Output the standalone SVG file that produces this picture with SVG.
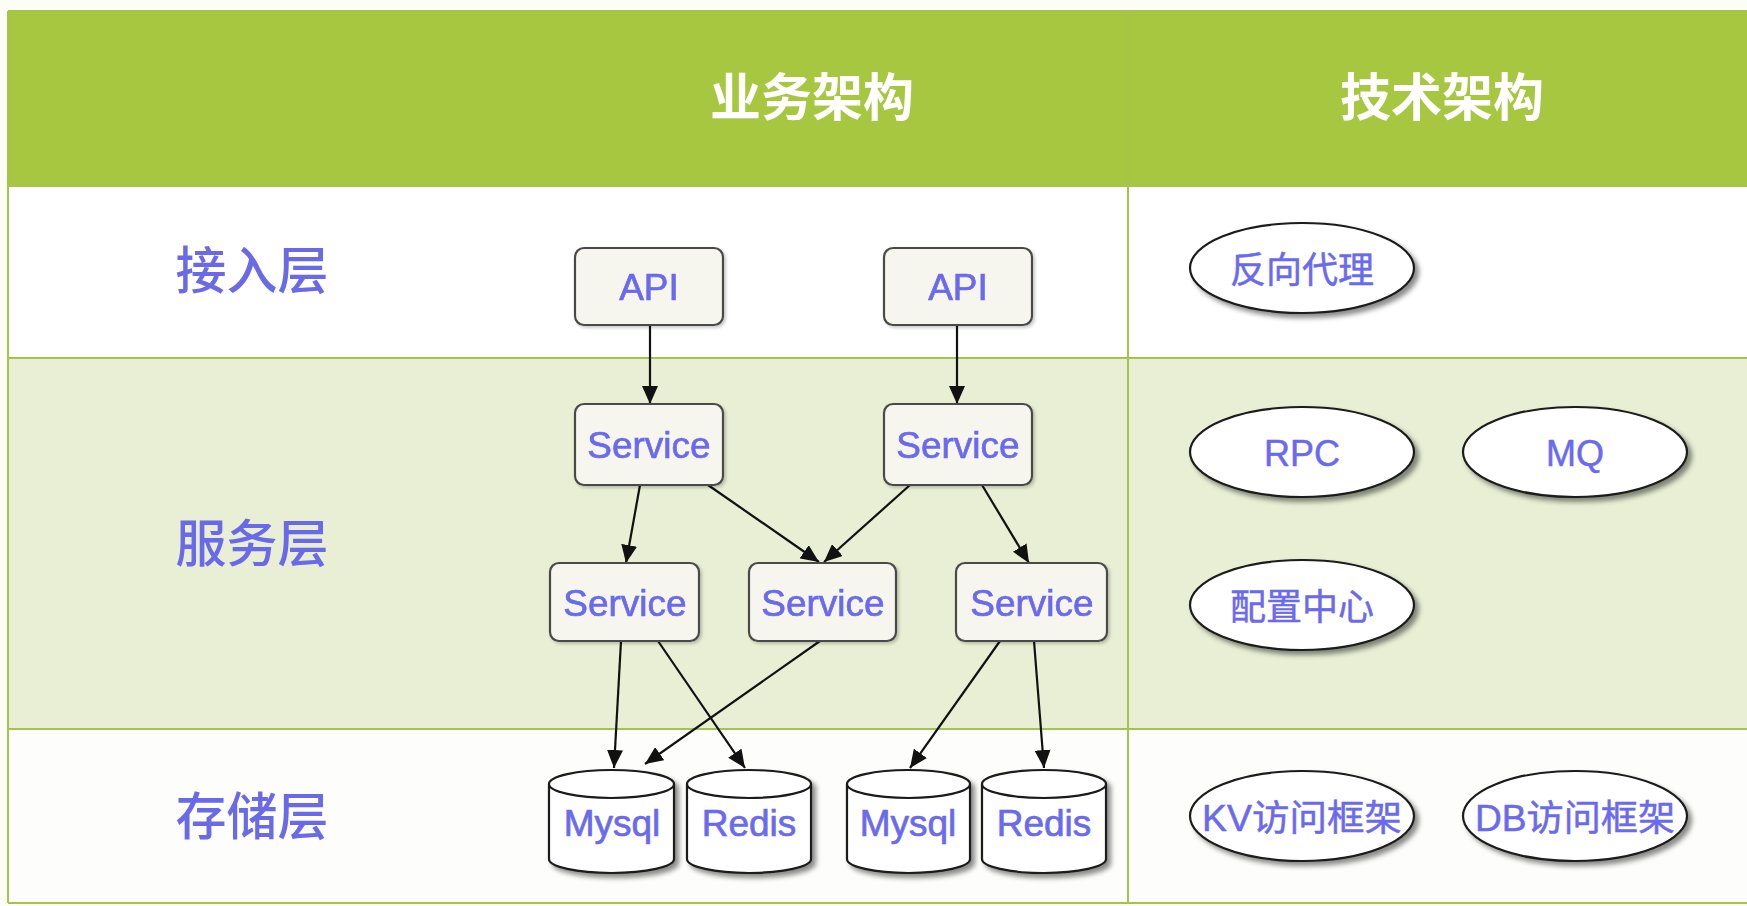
<svg xmlns="http://www.w3.org/2000/svg" width="1747" height="906" viewBox="0 0 1747 906">
<style>
.lbl{font-family:"Noto Sans CJK SC","Liberation Sans",sans-serif;font-size:51px;font-weight:500;fill:#6a6ae8;text-anchor:middle;dominant-baseline:central}
.hdr{font-family:"Noto Sans CJK SC","Liberation Sans",sans-serif;font-size:51px;font-weight:bold;fill:#ffffff;text-anchor:middle;dominant-baseline:central}
.t{font-family:"Liberation Sans","Noto Sans CJK SC",sans-serif;font-size:37px;fill:#6a6aee;stroke:#6a6aee;stroke-width:0.7;text-anchor:middle;dominant-baseline:central}
.tc{font-family:"Liberation Sans","Noto Sans CJK SC",sans-serif;font-size:36px;fill:#6a6aee;stroke:#6a6aee;stroke-width:0.5;text-anchor:middle;dominant-baseline:central}
.box{fill:#f7f6ee;stroke:#4a4a4a;stroke-width:2.2}
.db{fill:#ffffff;stroke:#1a1a1a;stroke-width:2.2}
.ell{fill:#ffffff;stroke:#1a1a1a;stroke-width:2.2}
.grid{stroke:#a6c44c;stroke-width:2;fill:none}
.edge{stroke:#111;stroke-width:2.2;fill:none;marker-end:url(#arr)}
</style>
<defs>
<marker id="arr" markerUnits="userSpaceOnUse" markerWidth="18" markerHeight="16" refX="18" refY="8" orient="auto">
<path d="M0,0 L18,8 L0,16 Z" fill="#111"/>
</marker>
<filter id="sh" x="-20%" y="-20%" width="150%" height="160%">
<feDropShadow dx="4" dy="4" stdDeviation="2.5" flood-color="#000" flood-opacity="0.45"/>
</filter>
<filter id="shs" x="-20%" y="-20%" width="150%" height="160%">
<feDropShadow dx="2" dy="2" stdDeviation="1.5" flood-color="#000" flood-opacity="0.2"/>
</filter>
</defs>

<g id="table">
<rect x="0" y="0" width="1747" height="906" fill="#fcfdf4"/>
<rect x="8" y="11" width="1739" height="175" fill="#a7c740"/>
<rect x="8" y="186" width="1739" height="172" fill="#ffffff"/>
<rect x="8" y="358" width="1739" height="371" fill="#e8efd4"/>
<rect x="8" y="729" width="1739" height="174" fill="#fdfdfb"/>
<line class="grid" x1="8" y1="11" x2="1747" y2="11" stroke="#9fbc46"/>
<line class="grid" x1="8" y1="186" x2="1747" y2="186"/>
<line class="grid" x1="8" y1="358" x2="1747" y2="358"/>
<line class="grid" x1="8" y1="729" x2="1747" y2="729"/>
<line class="grid" x1="8" y1="903" x2="1747" y2="903"/>
<line class="grid" x1="8" y1="11" x2="8" y2="903"/>
<line class="grid" x1="1128" y1="11" x2="1128" y2="903"/>
<text class="hdr" x="812" y="94">业务架构</text>
<text class="hdr" x="1442" y="94">技术架构</text>
<text class="lbl" x="252" y="267">接入层</text>
<text class="lbl" x="252" y="540">服务层</text>
<text class="lbl" x="252" y="813">存储层</text>
</g>

<g id="connectors">
<line class="edge" x1="650" y1="325" x2="650" y2="404"/>
<line class="edge" x1="957" y1="325" x2="957" y2="404"/>
<line class="edge" x1="640" y1="485" x2="626" y2="563"/>
<line class="edge" x1="708" y1="485" x2="819" y2="562"/>
<line class="edge" x1="910" y1="485" x2="824" y2="562"/>
<line class="edge" x1="982" y1="485" x2="1029" y2="563"/>
<line class="edge" x1="621" y1="641" x2="614" y2="768"/>
<line class="edge" x1="658" y1="641" x2="745" y2="768"/>
<line class="edge" x1="820" y1="641" x2="645" y2="764"/>
<line class="edge" x1="1000" y1="641" x2="910" y2="768"/>
<line class="edge" x1="1034" y1="641" x2="1044" y2="768"/>
</g>

<g id="api1" filter="url(#shs)"><rect class="box" x="575" y="248" width="148" height="77" rx="9"/><text class="t" x="649" y="287">API</text></g>
<g id="api2" filter="url(#shs)"><rect class="box" x="884" y="248" width="148" height="77" rx="9"/><text class="t" x="958" y="287">API</text></g>
<g id="svc1" filter="url(#shs)"><rect class="box" x="575" y="404" width="148" height="81" rx="9"/><text class="t" x="649" y="445">Service</text></g>
<g id="svc2" filter="url(#shs)"><rect class="box" x="884" y="404" width="148" height="81" rx="9"/><text class="t" x="958" y="445">Service</text></g>
<g id="svc3" filter="url(#shs)"><rect class="box" x="550" y="563" width="149" height="78" rx="9"/><text class="t" x="625" y="603">Service</text></g>
<g id="svc4" filter="url(#shs)"><rect class="box" x="749" y="563" width="147" height="78" rx="9"/><text class="t" x="823" y="603">Service</text></g>
<g id="svc5" filter="url(#shs)"><rect class="box" x="956" y="563" width="151" height="78" rx="9"/><text class="t" x="1032" y="603">Service</text></g>

<g id="mysql1"><path class="db" filter="url(#sh)" d="M549,784 A62.5,14 0 0 1 674,784 V859 A62.5,14 0 0 1 549,859 Z"/><path class="db" fill="none" d="M549,784 A62.5,14 0 0 0 674,784"/><text class="t" x="612" y="823">Mysql</text></g>
<g id="redis1"><path class="db" filter="url(#sh)" d="M687,784 A62,14 0 0 1 811,784 V859 A62,14 0 0 1 687,859 Z"/><path class="db" fill="none" d="M687,784 A62,14 0 0 0 811,784"/><text class="t" x="749" y="823">Redis</text></g>
<g id="mysql2"><path class="db" filter="url(#sh)" d="M847,784 A61.5,14 0 0 1 970,784 V859 A61.5,14 0 0 1 847,859 Z"/><path class="db" fill="none" d="M847,784 A61.5,14 0 0 0 970,784"/><text class="t" x="908" y="823">Mysql</text></g>
<g id="redis2"><path class="db" filter="url(#sh)" d="M982,784 A62,14 0 0 1 1106,784 V859 A62,14 0 0 1 982,859 Z"/><path class="db" fill="none" d="M982,784 A62,14 0 0 0 1106,784"/><text class="t" x="1044" y="823">Redis</text></g>

<g id="proxy"><ellipse class="ell" filter="url(#sh)" cx="1302" cy="268" rx="112" ry="45"/><text class="tc" x="1302" y="270" font-family="Noto Sans CJK SC">反向代理</text></g>
<g id="rpc"><ellipse class="ell" filter="url(#sh)" cx="1302" cy="452" rx="112" ry="45"/><text class="tc" x="1302" y="453">RPC</text></g>
<g id="mq"><ellipse class="ell" filter="url(#sh)" cx="1575" cy="452" rx="112" ry="45"/><text class="tc" x="1575" y="453">MQ</text></g>
<g id="config"><ellipse class="ell" filter="url(#sh)" cx="1302" cy="605" rx="112" ry="45"/><text class="tc" x="1302" y="607">配置中心</text></g>
<g id="kv"><ellipse class="ell" filter="url(#sh)" cx="1302" cy="816" rx="112" ry="45"/><text class="tc" x="1302" y="818" textLength="200" lengthAdjust="spacingAndGlyphs">KV访问框架</text></g>
<g id="dbf"><ellipse class="ell" filter="url(#sh)" cx="1575" cy="816" rx="112" ry="45"/><text class="tc" x="1575" y="818" textLength="200" lengthAdjust="spacingAndGlyphs">DB访问框架</text></g>
</svg>
